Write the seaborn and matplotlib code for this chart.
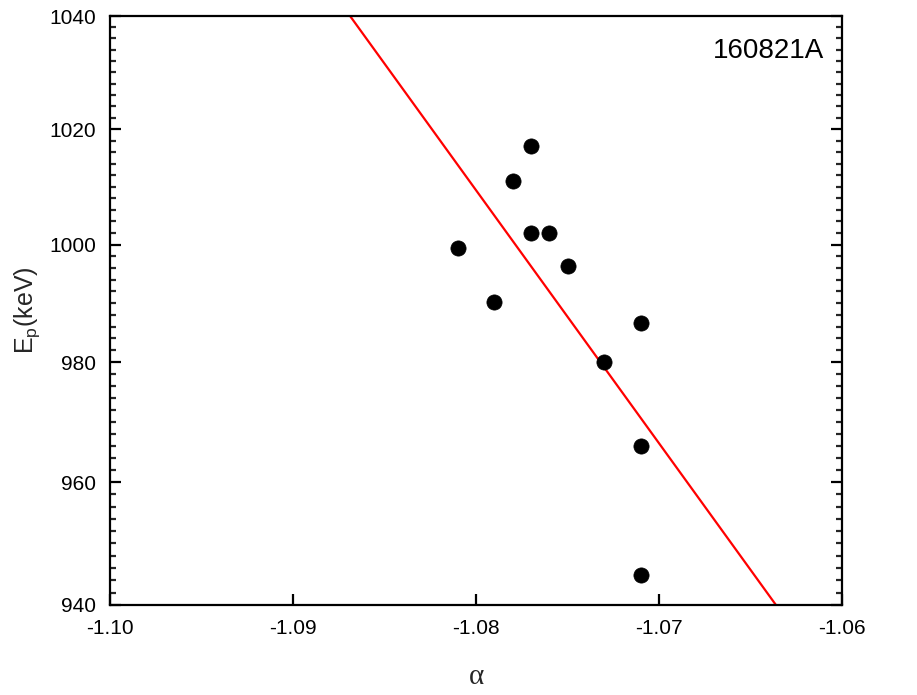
import numpy as np
import pandas as pd
import matplotlib
matplotlib.use("Agg")
import matplotlib.pyplot as plt
from matplotlib.ticker import FixedLocator, FixedFormatter, NullFormatter
import seaborn as sns

# data
alpha = [-1.077, -1.078, -1.077, -1.076, -1.081, -1.075, -1.079, -1.071, -1.073, -1.071, -1.071]
ep_kev = [1017.0, 1011.0, 1002.0, 1002.0, 999.4, 996.4, 990.2, 986.7, 980.1, 966.0, 944.8]
x_ticks = [-1.10, -1.09, -1.08, -1.07, -1.06]
x_tick_labels = ["-1.10", "-1.09", "-1.08", "-1.07", "-1.06"]
y_ticks = [940, 960, 980, 1000, 1020, 1040]
y_tick_labels = ["940", "960", "980", "1000", "1020", "1040"]
y_minor = list(range(940, 1041, 2))
grb_name = "160821A"

sns.set_theme(style="ticks")
plt.rcParams["font.family"] = ["Liberation Sans", "DejaVu Sans"]

df = pd.DataFrame({"alpha": alpha, "Ep": ep_kev})

# linear least-squares fit, drawn between the y-limits
m, b = np.polyfit(df["alpha"], df["Ep"], 1)
fit_y = np.array([y_ticks[-1], y_ticks[0]], dtype=float)
fit_x = (fit_y - b) / m
fit_df = pd.DataFrame({"alpha": fit_x, "Ep": fit_y})

fig = plt.figure(figsize=(9.17, 6.95), dpi=100)
ax = fig.add_axes([110 / 917, 1 - 605 / 695, (842 - 110) / 917, (605 - 16) / 695])

ax.set_yscale("log")
sns.lineplot(data=fit_df, x="alpha", y="Ep", ax=ax, color="#ff0000", lw=1.6,
             sort=False, estimator=None)
sns.scatterplot(data=df, x="alpha", y="Ep", ax=ax, color="black", s=120,
                edgecolor="black", linewidth=0.5, zorder=3)

ax.set_xlim(x_ticks[0], x_ticks[-1])
ax.set_ylim(y_ticks[0], y_ticks[-1])

ax.xaxis.set_major_locator(FixedLocator(x_ticks))
ax.xaxis.set_major_formatter(FixedFormatter(x_tick_labels))
ax.xaxis.set_minor_locator(FixedLocator([]))
ax.yaxis.set_major_locator(FixedLocator(y_ticks))
ax.yaxis.set_major_formatter(FixedFormatter(y_tick_labels))
ax.yaxis.set_minor_locator(FixedLocator([v for v in y_minor if v not in y_ticks]))
ax.yaxis.set_minor_formatter(NullFormatter())

for s in ax.spines.values():
    s.set_linewidth(1.6)
    s.set_color("black")

ax.tick_params(axis="both", which="major", direction="in", length=8, width=1.6,
               labelsize=15, colors="black", pad=10)
ax.tick_params(axis="y", which="both", right=True, left=True)
ax.tick_params(axis="y", which="minor", direction="in", length=4.5, width=1.6)
ax.tick_params(axis="x", which="both", top=False)

ax.set_xlabel("α", fontsize=21, family=["Liberation Serif", "DejaVu Serif"], labelpad=19)
ax.set_ylabel(r"E$_\mathregular{p}$(keV)", fontsize=18, labelpad=5)

ax.text(0.976, 0.94, grb_name, transform=ax.transAxes, ha="right", va="center",
        fontsize=20, color="black")

fig.savefig("out.png", dpi=100)
